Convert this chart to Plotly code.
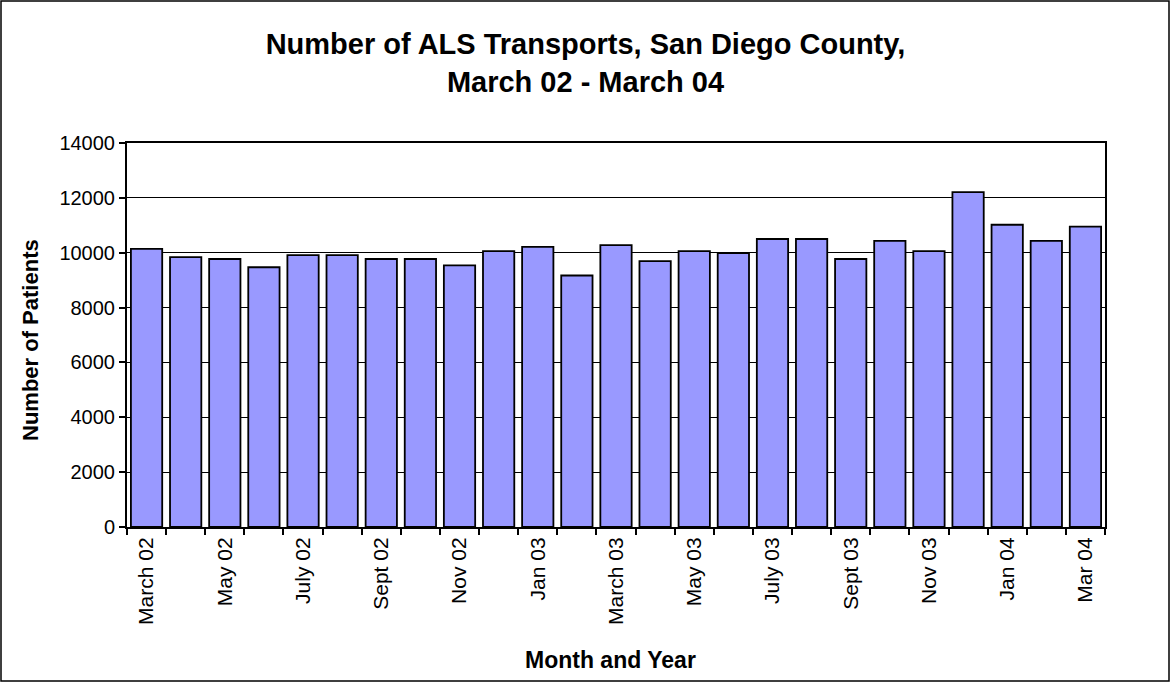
import plotly.graph_objects as go

months = ["March 02", "April 02", "May 02", "June 02", "July 02", "Aug 02", "Sept 02",
          "Oct 02", "Nov 02", "Dec 02", "Jan 03", "Feb 03", "March 03", "April 03",
          "May 03", "June 03", "July 03", "Aug 03", "Sept 03", "Oct 03", "Nov 03",
          "Dec 03", "Jan 04", "Feb 04", "Mar 04"]
patients = [10140, 9840, 9770, 9470, 9910, 9910, 9770, 9770, 9540, 10060, 10210, 9170,
            10280, 9690, 10060, 9990, 10500, 10500, 9770, 10430, 10060, 12210, 11020,
            10430, 10950]
shown_labels = [m if i % 2 == 0 else "" for i, m in enumerate(months)]
y_ticks = [0, 2000, 4000, 6000, 8000, 10000, 12000, 14000]

W, H = 1171, 683
L, R, T, B = 127, 66, 143, 156
pw, ph = W - L - R, H - T - B

fig = go.Figure(go.Bar(
    x=months, y=patients,
    marker=dict(color="#9999FF", line=dict(color="black", width=1.8)),
))

fig.update_layout(
    width=W, height=H,
    margin=dict(l=L, r=R, t=T, b=B),
    paper_bgcolor="white", plot_bgcolor="white",
    bargap=0.2,
    showlegend=False,
    font=dict(family="Liberation Sans, Arial", color="black", size=20),
    title=dict(text="<b>Number of ALS Transports, San Diego County,<br>March 02 - March 04</b>",
               x=0.5, xanchor="center", y=1 - 54 / H, yanchor="top",
               font=dict(size=29, family="Liberation Sans, Arial")),
    xaxis=dict(
        type="category", tickmode="array", tickvals=months, ticktext=shown_labels,
        tickangle=-90, tickson="boundaries", ticks="outside", ticklen=6,
        tickcolor="black", tickwidth=1.5, showline=True, linecolor="black", linewidth=2,
        mirror=True, showgrid=False,
        tickfont=dict(size=21),
    ),
    yaxis=dict(
        range=[0, 14000], tickvals=y_ticks, tickformat="d", ticks="outside", ticklen=6,
        tickcolor="black", tickwidth=1.5, showline=True, linecolor="black", linewidth=2,
        mirror=True, showgrid=True, gridcolor="black", gridwidth=1,
        zeroline=False,
        tickfont=dict(size=20),
    ),
    annotations=[
        dict(text="<b>Month and Year</b>", xref="paper", yref="paper",
             x=(610 - L) / pw, y=(H - B - 660) / ph, xanchor="center", yanchor="middle",
             showarrow=False, font=dict(size=23)),
        dict(text="<b>Number of Patients</b>", xref="paper", yref="paper",
             x=(30 - L) / pw, y=(H - B - 340) / ph, xanchor="center", yanchor="middle",
             textangle=-90, showarrow=False, font=dict(size=22)),
    ],
    shapes=[dict(type="rect", xref="paper", yref="paper",
                 x0=(1 - L) / pw, x1=(W - 2 - L) / pw,
                 y0=(H - B - (H - 2)) / ph, y1=(H - B - 1) / ph,
                 line=dict(color="black", width=1.5), layer="below")],
)

fig.write_html("out.html", config={"displayModeBar": False},
               post_script="document.body.style.margin='0';document.body.style.padding='0';")
